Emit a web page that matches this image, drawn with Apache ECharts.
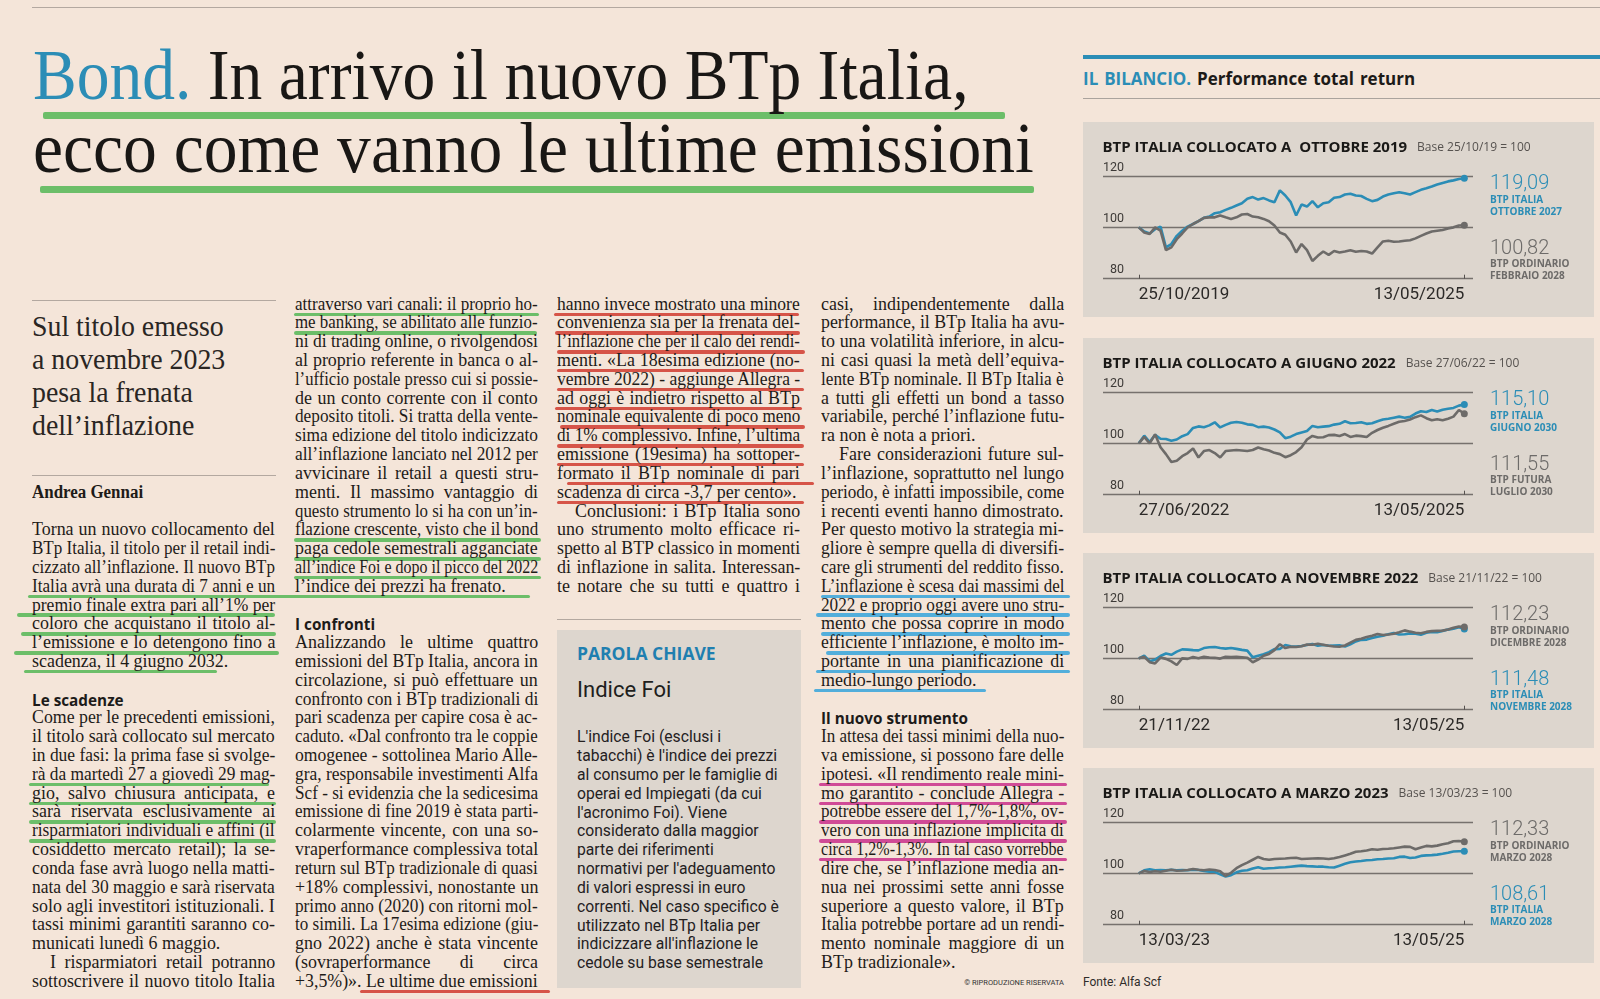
<!DOCTYPE html>
<html lang="it">
<head>
<meta charset="utf-8">
<title>Bond. In arrivo il nuovo BTp Italia</title>
<script src="https://cdn.jsdelivr.net/npm/echarts@6.0.0/dist/echarts.min.js"></script>
<style>
  html, body { margin: 0; padding: 0; }
  body { width: 1600px; height: 999px; overflow: hidden; background: #f4e5d9; }
  #page { position: relative; width: 1600px; height: 999px; }
  .txt { position: absolute; white-space: pre; line-height: 1; transform-origin: 0 0; color: #1e1b18; }
  .serif { font-family: "Liberation Serif", "DejaVu Serif", serif; }
  .sans { font-family: Roboto, "Liberation Sans", sans-serif; }
  .open { font-family: "Open Sans", Roboto, sans-serif; }
  .rule { position: absolute; height: 1px; background: #b3a8a0; }
  .mark { position: absolute; border-radius: 2px; }
  .block { position: absolute; background: #ddd6ce; }
  .panel { position: absolute; left: 1083px; width: 511px; height: 195px; }
</style>
</head>
<body>
<div id="page">
  <div class="panel" id="panel0" style="top:121.7px"></div>
  <div class="panel" id="panel1" style="top:338px"></div>
  <div class="panel" id="panel2" style="top:553.3px"></div>
  <div class="panel" id="panel3" style="top:768.3px"></div>
</div>
<script>
// --- chart data (61 samples per line) ---
const p1Dates = ["25/10/2019", "13/05/2025"];
const p1Italia = [100.0, 98.4, 97.6, 99.3, 100.3, 92.2, 93.5, 96.7, 98.7, 100.3, 101.3, 102.4, 103.7, 104.2, 105.5, 105.9, 106.8, 107.6, 108.5, 109.4, 111.1, 111.8, 110.8, 111.4, 110.5, 109.8, 114.4, 112.4, 109.8, 104.6, 108.9, 108.1, 110.2, 107.8, 109.4, 109.8, 111.5, 111.8, 112.8, 113.1, 112.4, 112.2, 111.1, 110.2, 110.7, 112.0, 112.8, 113.3, 113.7, 113.3, 112.8, 113.7, 114.6, 115.2, 115.9, 116.7, 117.3, 117.9, 118.3, 118.8, 119.09];
const p1Ordinario = [100.0, 98.0, 97.4, 100.0, 98.7, 91.1, 92.2, 95.4, 97.6, 100.0, 101.3, 102.4, 103.7, 103.9, 103.9, 104.6, 103.9, 103.3, 103.9, 105.0, 105.2, 104.2, 103.9, 103.3, 102.4, 100.7, 98.0, 97.1, 94.5, 90.2, 93.5, 91.1, 86.9, 88.9, 90.6, 89.3, 90.8, 90.2, 90.6, 91.1, 90.5, 90.8, 90.6, 89.8, 92.2, 94.5, 94.8, 94.4, 94.5, 94.8, 95.0, 95.7, 96.7, 97.6, 98.4, 98.7, 99.0, 99.6, 100.0, 100.7, 100.82];

const p2Dates = ["27/06/2022", "13/05/2025"];
const p2Italia = [100.0, 103.0, 100.5, 103.3, 101.8, 101.7, 101.0, 101.5, 102.8, 103.6, 106.0, 106.6, 106.3, 107.0, 108.2, 106.2, 107.2, 108.0, 108.3, 108.0, 107.4, 107.2, 106.3, 106.5, 106.2, 105.4, 104.3, 102.0, 102.6, 103.6, 104.2, 104.8, 106.8, 106.3, 106.5, 106.7, 107.3, 107.6, 108.6, 107.8, 107.9, 108.2, 107.6, 107.8, 108.6, 109.3, 109.6, 110.0, 110.4, 110.0, 110.3, 111.6, 112.5, 112.2, 113.0, 112.4, 113.1, 113.5, 113.8, 114.7, 115.10];
const p2Futura = [100.0, 102.5, 100.0, 103.5, 98.5, 95.8, 92.7, 93.2, 95.0, 96.2, 98.0, 94.5, 97.0, 97.4, 96.2, 94.5, 97.0, 97.2, 97.4, 97.2, 97.0, 97.4, 98.4, 97.7, 97.2, 96.3, 95.8, 94.6, 95.4, 96.6, 98.5, 101.5, 102.9, 102.3, 102.4, 103.2, 103.3, 102.9, 103.6, 102.5, 103.0, 102.8, 102.5, 104.1, 105.2, 106.1, 106.8, 107.6, 108.4, 108.7, 109.3, 110.2, 110.9, 109.8, 109.0, 109.4, 109.0, 109.6, 110.4, 113.0, 111.55];

const p3Dates = ["21/11/22", "13/05/25"];
const p3Italia = [100.0, 101.0, 98.9, 99.5, 100.9, 101.9, 101.4, 102.6, 103.5, 103.4, 103.2, 103.1, 104.0, 104.3, 104.4, 104.0, 103.8, 104.0, 103.7, 103.3, 103.0, 100.4, 101.0, 101.6, 102.4, 103.6, 103.7, 105.2, 104.7, 104.6, 104.8, 105.2, 105.6, 104.9, 105.2, 104.9, 105.0, 105.1, 104.6, 105.5, 106.6, 107.2, 107.3, 107.9, 108.4, 108.8, 109.4, 109.9, 109.3, 109.4, 109.7, 109.6, 109.2, 110.0, 110.3, 110.2, 110.7, 111.2, 111.5, 112.1, 111.48];
const p3Ordinario = [100.0, 100.6, 98.5, 98.0, 100.3, 99.8, 98.8, 97.4, 100.0, 99.8, 100.5, 100.0, 100.6, 100.3, 100.2, 99.9, 100.6, 100.5, 100.6, 100.4, 100.2, 98.5, 99.5, 101.0, 101.7, 103.2, 105.5, 104.0, 104.5, 104.4, 104.7, 105.4, 105.3, 105.7, 105.3, 104.9, 104.6, 104.5, 105.0, 106.1, 107.2, 107.6, 108.3, 108.8, 109.5, 109.1, 109.3, 109.6, 110.2, 110.9, 110.4, 110.0, 109.8, 110.3, 110.6, 110.7, 110.8, 111.2, 111.9, 112.4, 112.23];

const p4Dates = ["13/03/23", "13/05/25"];
const p4Italia = [100.0, 101.2, 101.6, 101.2, 101.3, 101.2, 101.4, 101.2, 101.3, 101.2, 101.4, 101.3, 100.9, 100.6, 100.6, 99.6, 98.8, 99.3, 100.4, 101.0, 101.2, 101.9, 102.4, 101.8, 102.0, 102.1, 102.3, 102.4, 102.6, 102.8, 103.0, 102.8, 102.7, 102.6, 102.6, 102.4, 102.3, 103.0, 103.7, 104.3, 104.6, 104.8, 105.1, 105.2, 105.5, 105.6, 105.8, 105.9, 106.4, 106.5, 106.0, 106.2, 106.8, 107.0, 107.1, 107.3, 107.6, 108.0, 108.5, 108.6, 108.61];
const p4Ordinario = [100.0, 100.9, 100.5, 100.8, 100.6, 101.0, 101.4, 101.0, 101.1, 101.3, 101.7, 101.4, 101.2, 101.5, 101.3, 100.8, 99.0, 100.2, 102.0, 103.2, 104.2, 105.3, 106.4, 105.6, 105.3, 105.6, 105.7, 105.8, 106.0, 106.1, 105.6, 105.7, 105.8, 105.9, 105.8, 105.6, 105.9, 106.4, 107.0, 107.6, 108.4, 108.6, 108.9, 109.4, 109.2, 109.5, 109.6, 109.8, 110.1, 110.4, 110.3, 109.4, 110.1, 110.7, 110.5, 110.8, 111.3, 111.7, 112.5, 112.6, 112.33];

const yTicks = [80, 100, 120];

// --- article text, one entry per printed line ---
// '#' sans subhead, '*' byline, '>' indented first line, trailing '|' = not justified
const col1Lines = [
  "*Andrea Gennai", "",
  "Torna un nuovo collocamento del",
  "BTp Italia, il titolo per il retail indi-",
  "cizzato all’inflazione. Il nuovo BTp",
  "Italia avrà una durata di 7 anni e un",
  "premio finale extra pari all’1% per",
  "coloro che acquistano il titolo al-",
  "l’emissione e lo detengono fino a",
  "scadenza, il 4 giugno 2032.|", "",
  "#Le scadenze",
  "Come per le precedenti emissioni,",
  "il titolo sarà collocato sul mercato",
  "in due fasi: la prima fase si svolge-",
  "rà da martedì 27 a giovedì 29 mag-",
  "gio, salvo chiusura anticipata, e",
  "sarà riservata esclusivamente ai",
  "risparmiatori individuali e affini (il",
  "cosiddetto mercato retail); la se-",
  "conda fase avrà luogo nella matti-",
  "nata del 30 maggio e sarà riservata",
  "solo agli investitori istituzionali. I",
  "tassi minimi garantiti saranno co-",
  "municati lunedì 6 maggio.|",
  ">I risparmiatori retail potranno",
  "sottoscrivere il nuovo titolo Italia"
];
const col2Lines = [
  "attraverso vari canali: il proprio ho-",
  "me banking, se abilitato alle funzio-",
  "ni di trading online, o rivolgendosi",
  "al proprio referente in banca o al-",
  "l’ufficio postale presso cui si possie-",
  "de un conto corrente con il conto",
  "deposito titoli. Si tratta della vente-",
  "sima edizione del titolo indicizzato",
  "all’inflazione lanciato nel 2012 per",
  "avvicinare il retail a questi stru-",
  "menti. Il massimo vantaggio di",
  "questo strumento lo si ha con un’in-",
  "flazione crescente, visto che il bond",
  "paga cedole semestrali agganciate",
  "all’indice Foi e dopo il picco del 2022",
  "l’indice dei prezzi ha frenato.|", "",
  "#I confronti",
  "Analizzando le ultime quattro",
  "emissioni del BTp Italia, ancora in",
  "circolazione, si può effettuare un",
  "confronto con i BTp tradizionali di",
  "pari scadenza per capire cosa è ac-",
  "caduto. «Dal confronto tra le coppie",
  "omogenee - sottolinea Mario Alle-",
  "gra, responsabile investimenti Alfa",
  "Scf - si evidenzia che la sedicesima",
  "emissione di fine 2019 è stata parti-",
  "colarmente vincente, con una so-",
  "vraperformance complessiva total",
  "return sul BTp tradizionale di quasi",
  "+18% complessivi, nonostante un",
  "primo anno (2020) con ritorni mol-",
  "to simili. La 17esima edizione (giu-",
  "gno 2022) anche è stata vincente",
  "(sovraperformance di circa",
  "+3,5%)». Le ultime due emissioni"
];
const col3Lines = [
  "hanno invece mostrato una minore",
  "convenienza sia per la frenata del-",
  "l’inflazione che per il calo dei rendi-",
  "menti. «La 18esima edizione (no-",
  "vembre 2022) - aggiunge Allegra -",
  "ad oggi è indietro rispetto al BTp",
  "nominale equivalente di poco meno",
  "di 1% complessivo. Infine, l’ultima",
  "emissione (19esima) ha sottoper-",
  "formato il BTp nominale di pari",
  "scadenza di circa -3,7 per cento».|",
  ">Conclusioni: i BTp Italia sono",
  "uno strumento molto efficace ri-",
  "spetto al BTP classico in momenti",
  "di inflazione in salita. Interessan-",
  "te notare che su tutti e quattro i"
];
const boxLines = [
  "L'indice Foi (esclusi i",
  "tabacchi) è l'indice dei prezzi",
  "al consumo per le famiglie di",
  "operai ed Impiegati (da cui",
  "l'acronimo Foi). Viene",
  "considerato dalla maggior",
  "parte dei riferimenti",
  "normativi per l'adeguamento",
  "di valori espressi in euro",
  "correnti. Nel caso specifico è",
  "utilizzato nel BTp Italia per",
  "indicizzare all'inflazione le",
  "cedole su base semestrale"
];
const col4Lines = [
  "casi, indipendentemente dalla",
  "performance, il BTp Italia ha avu-",
  "to una volatilità inferiore, in alcu-",
  "ni casi quasi la metà dell’equiva-",
  "lente BTp nominale. Il BTp Italia è",
  "a tutti gli effetti un bond a tasso",
  "variabile, perché l’inflazione futu-",
  "ra non è nota a priori.|",
  ">Fare considerazioni future sul-",
  "l’inflazione, soprattutto nel lungo",
  "periodo, è infatti impossibile, come",
  "i recenti eventi hanno dimostrato.",
  "Per questo motivo la strategia mi-",
  "gliore è sempre quella di diversifi-",
  "care gli strumenti del reddito fisso.",
  "L’inflazione è scesa dai massimi del",
  "2022 e proprio oggi avere uno stru-",
  "mento che possa coprire in modo",
  "efficiente l’inflazione, è molto im-",
  "portante in una pianificazione di",
  "medio-lungo periodo.|", "",
  "#Il nuovo strumento",
  "In attesa dei tassi minimi della nuo-",
  "va emissione, si possono fare delle",
  "ipotesi. «Il rendimento reale mini-",
  "mo garantito - conclude Allegra -",
  "potrebbe essere del 1,7%-1,8%, ov-",
  "vero con una inflazione implicita di",
  "circa 1,2%-1,3%. In tal caso vorrebbe",
  "dire che, se l’inflazione media an-",
  "nua nei prossimi sette anni fosse",
  "superiore a questo valore, il BTp",
  "Italia potrebbe portare ad un rendi-",
  "mento nominale maggiore di un",
  "BTp tradizionale».|"
];
const deckLines = ["Sul titolo emesso", "a novembre 2023", "pesa la frenata", "dell’inflazione"];

const BLUE = "#2b8db6";
const GRAY = "#6d6b69";
const GREEN = "#6cbe69";
const RED = "#d65448";
const CYAN = "#52aedb";
const PINK = "#d04a96";

const SLOT0 = 305.5;
const SLOT_H = 18.81;
const slotY = (s) => SLOT0 + s * SLOT_H;

// highlighter strokes: [x1, x2, slot]
const greenMarks = [[28, 530, 15], [17, 275, 16], [21, 276, 17], [14, 279, 18], [24, 217, 19], [29, 269, 25], [29, 276, 26], [29, 276, 27], [29, 276, 28], [294, 539, 0], [294, 537, 1], [294, 541, 12], [294, 541, 13], [294, 541, 14]];
const redMarks = [[360, 550, 36], [554, 799, 0], [555, 800, 1], [557, 805, 2], [557, 804, 3], [557, 804, 4], [555, 802, 5], [560, 805, 6], [557, 804, 7], [557, 804, 8], [567, 814, 9], [557, 804, 10]];
const cyanMarks = [[821, 1070, 15], [816, 1070, 16], [821, 1070, 17], [826, 1070, 18], [816, 1070, 19], [814, 986, 20]];
const pinkMarks = [[819, 1067, 25], [819, 1067, 26], [819, 1067, 27], [819, 1067, 28], [819, 1067, 29]];

const page = document.querySelector("#page");

function addBox(cls, x, y, w, h, color) {
  const el = document.createElement("div");
  el.className = cls;
  el.style.left = `${x}px`;
  el.style.top = `${y}px`;
  el.style.width = `${w}px`;
  el.style.height = `${h}px`;
  if (color) el.style.background = color;
  page.insertBefore(el, page.firstChild);
  return el;
}

function addText(html, x, baseline, size, cls, style = {}) {
  const el = document.createElement("div");
  el.className = `txt ${cls}`;
  el.style.fontSize = `${size}px`;
  el.innerHTML = html;
  el.style.left = `${x}px`;
  el.style.top = `${baseline - 0.84 * size}px`;
  Object.assign(el.style, style);
  page.appendChild(el);
  return el;
}

function fit(el, width, baseScale, justify) {
  const w = el.offsetWidth;
  let s = baseScale;
  if (w * s > width) {
    s = width / w;
  } else if (justify) {
    const gaps = (el.textContent.match(/ /g) || []).length;
    if (gaps) el.style.wordSpacing = `${(width / s - w) / gaps}px`;
  }
  el.style.transform = `scaleX(${s})`;
}

function drawColumn(lines, x, width, firstSlot) {
  lines.forEach((raw, i) => {
    if (!raw) return;
    const y = slotY(firstSlot + i);
    if (raw[0] === "#") {
      addText(raw.slice(1), x, y + 5, 15.3, "open", { fontWeight: "700", color: "#1d1b19" });
      return;
    }
    if (raw[0] === "*") {
      const el = addText(raw.slice(1), x, y + 4.5, 18, "serif", { fontWeight: "700" });
      fit(el, 112, 0.94, false);
      return;
    }
    let text = raw;
    let indent = 0;
    let justify = true;
    if (text[0] === ">") { text = text.slice(1); indent = 18; }
    if (text.endsWith("|")) { text = text.slice(0, -1); justify = false; }
    const el = addText(text, x + indent, y + 4.5, 19.5, "serif");
    fit(el, width - indent, 0.92, justify);
  });
}

function drawMarks(list, color) {
  list.forEach(([x1, x2, slot]) => {
    addBox("mark", x1, slotY(slot) + 7, x2 - x1, 3.5, color);
  });
}

// page furniture
addBox("rule", 32, 6.8, 1568, 1.5);
addBox("rule", 32, 300, 244, 1.3);
addBox("rule", 32, 475, 244, 1.3);
addBox("rule", 557, 619, 244, 1.3);
addBox("block", 557, 630, 244, 358);
addBox("rule", 1083, 55, 517, 4, BLUE);
addBox("rule", 1083, 98, 517, 1, "#aaa39d");

// headline
const head1 = addText(`<span style="color:${BLUE}">Bond.</span> In arrivo il nuovo BTp Italia,`, 33, 100, 71, "serif", { color: "#191715" });
fit(head1, 936, 1, true);
const head2 = addText("ecco come vanno le ultime emissioni", 33, 173, 71, "serif", { color: "#191715" });
fit(head2, 1001, 1, true);
addBox("mark", 43, 111.5, 962, 7, GREEN);
addBox("mark", 40, 185.5, 994, 7, GREEN);

// deck
deckLines.forEach((line, i) => {
  const el = addText(line, 32, 336 + i * 33.1, 29, "serif", { color: "#2a2623" });
  el.style.transform = "scaleX(0.96)";
});

drawMarks(greenMarks, GREEN);
drawMarks(redMarks, RED);
drawMarks(cyanMarks, CYAN);
drawMarks(pinkMarks, PINK);

drawColumn(col1Lines, 32, 243, 10);
drawColumn(col2Lines, 295, 243, 0);
drawColumn(col3Lines, 557, 243, 0);
drawColumn(col4Lines, 821, 243, 0);

// keyword box
addText("PAROLA CHIAVE", 577, 660, 17.5, "open", { fontWeight: "700", color: "#1f7fb0" });
addText("Indice Foi", 577, 697, 22, "sans", { color: "#201e1c" });
boxLines.forEach((line, i) => addText(line, 577, slotY(23 + i) + 4.5, 15.7, "sans", { color: "#24211f" }));

addText("© RIPRODUZIONE RISERVATA", 1064, slotY(36) + 3, 7.5, "sans", { color: "#333", transform: "translateX(-100%)", transformOrigin: "100% 0" });

// right column header and source
const kicker = addText(`<span style="color:${BLUE}">IL BILANCIO.</span> Performance total return`, 1083, 84.3, 17, "open", { fontWeight: "700", color: "#1c1a18" });
fit(kicker, 332, 1, true);
addText("Fonte: Alfa Scf", 1083, 986, 12, "sans", { color: "#2e2c2a" });

// --- the four ECharts panels ---
const panels = [
  {
    title: "BTP ITALIA COLLOCATO A  OTTOBRE 2019", base: "Base 25/10/19 = 100", dates: p1Dates,
    series: [{ data: p1Italia, color: BLUE }, { data: p1Ordinario, color: GRAY }],
    labels: [
      { value: "119,09", name: "BTP ITALIA\nOTTOBRE 2027", color: BLUE },
      { value: "100,82", name: "BTP ORDINARIO\nFEBBRAIO 2028", color: GRAY }
    ]
  },
  {
    title: "BTP ITALIA COLLOCATO A GIUGNO 2022", base: "Base 27/06/22 = 100", dates: p2Dates,
    series: [{ data: p2Italia, color: BLUE }, { data: p2Futura, color: GRAY }],
    labels: [
      { value: "115,10", name: "BTP ITALIA\nGIUGNO 2030", color: BLUE },
      { value: "111,55", name: "BTP FUTURA\nLUGLIO 2030", color: GRAY }
    ]
  },
  {
    title: "BTP ITALIA COLLOCATO A NOVEMBRE 2022", base: "Base 21/11/22 = 100", dates: p3Dates,
    series: [{ data: p3Italia, color: BLUE }, { data: p3Ordinario, color: GRAY }],
    labels: [
      { value: "112,23", name: "BTP ORDINARIO\nDICEMBRE 2028", color: GRAY },
      { value: "111,48", name: "BTP ITALIA\nNOVEMBRE 2028", color: BLUE }
    ]
  },
  {
    title: "BTP ITALIA COLLOCATO A MARZO 2023", base: "Base 13/03/23 = 100", dates: p4Dates,
    series: [{ data: p4Italia, color: BLUE }, { data: p4Ordinario, color: GRAY }],
    labels: [
      { value: "112,33", name: "BTP ORDINARIO\nMARZO 2028", color: GRAY },
      { value: "108,61", name: "BTP ITALIA\nMARZO 2028", color: BLUE }
    ]
  }
];

const FONT = "Roboto, 'Liberation Sans', sans-serif";
const OPEN = "'Open Sans', Roboto, sans-serif";

function panelOption(p) {
  const last = p.series[0].data.length - 1;
  const graphic = [];
  p.labels.forEach((lab, k) => {
    const top = k ? 116.5 : 52;
    graphic.push({ type: "text", left: 407, top, style: { text: lab.value, font: `300 20px ${FONT}`, fill: lab.color } });
    graphic.push({ type: "text", left: 407, top: top + 20, style: { text: lab.name, font: `bold 10px ${OPEN}`, fill: lab.color, lineHeight: 12 } });
  });
  return {
    animation: false,
    backgroundColor: "#ddd6ce",
    title: {
      left: 19.5,
      top: 17,
      padding: 0,
      text: `{t|${p.title}}  {b|${p.base}}`,
      textStyle: {
        rich: {
          t: { fontFamily: OPEN, fontSize: 15, fontWeight: "bold", color: "#1a1917", lineHeight: 17 },
          b: { fontFamily: OPEN, fontSize: 12, fontWeight: "normal", color: "#56524f", lineHeight: 17 }
        }
      }
    },
    grid: { left: 20, right: 121, top: 54, bottom: 38.3 },
    xAxis: {
      type: "value",
      min: -6.6,
      max: last + 1.6,
      splitLine: { show: false },
      axisLine: { show: false },
      axisTick: { show: true, inside: true, length: 4, customValues: [0, last], lineStyle: { color: "#55514e" } },
      axisLabel: {
        customValues: [0, last],
        formatter: (v) => (v === 0 ? p.dates[0] : p.dates[1]),
        alignMinLabel: "left",
        alignMaxLabel: "right",
        fontFamily: FONT,
        fontSize: 17,
        color: "#2c2a28",
        margin: 8
      }
    },
    yAxis: {
      type: "value",
      min: yTicks[0],
      max: yTicks[yTicks.length - 1],
      interval: yTicks[1] - yTicks[0],
      axisLine: { show: false },
      axisTick: { show: false },
      splitLine: { lineStyle: { color: "#76716d", width: 1.3 } },
      axisLabel: {
        inside: true,
        align: "right",
        verticalAlign: "bottom",
        margin: 21,
        padding: [0, 0, 2, 0],
        fontFamily: FONT,
        fontSize: 12.5,
        color: "#3d3a37"
      }
    },
    graphic,
    series: p.series.map((s) => ({
      type: "line",
      data: s.data.map((v, i) => [i, v]),
      symbol: "circle",
      showSymbol: true,
      symbolSize: (v, params) => (params.dataIndex === last ? 7 : 0),
      lineStyle: { color: s.color, width: 2.6 },
      itemStyle: { color: s.color },
      emphasis: { disabled: true }
    }))
  };
}

panels.forEach((p, i) => {
  const chart = echarts.init(document.querySelector(`#panel${i}`), null, { renderer: "canvas" });
  chart.setOption(panelOption(p));
});
</script>
</body>
</html>
